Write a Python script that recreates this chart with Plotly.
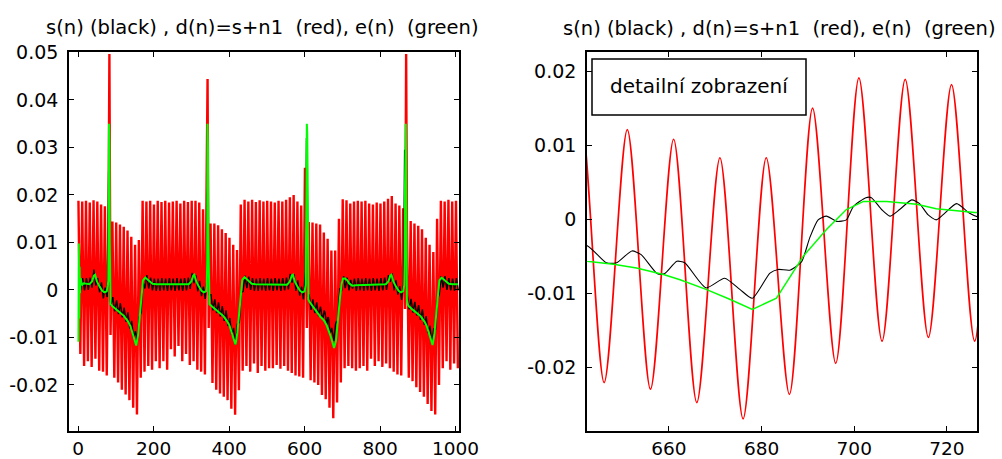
import plotly.graph_objects as go

# ---------------- data ----------------
# d(n) = s + n1 (red): local extrema of the noisy signal (plus R-spike samples)
red_n = [1, 6, 11, 16, 21, 26, 31, 36, 41, 46, 51, 56, 61, 66, 71, 76, 81, 83, 86,
         91, 96, 101, 106, 111, 116, 121, 126, 131, 136, 141, 146, 151, 156, 161, 166,
         171, 176, 181, 186, 191, 196, 201, 206, 211, 216, 221, 226, 231, 236, 241, 246,
         251, 256, 261, 266, 271, 276, 281, 286, 291, 296, 301, 306, 311, 316, 321, 326,
         331, 336, 341, 343, 346, 351, 356, 361, 366, 371, 376, 381, 386, 391, 396, 401,
         406, 411, 416, 421, 426, 431, 436, 441, 446, 451, 456, 461, 466, 471, 476, 481,
         486, 491, 496, 501, 506, 511, 516, 521, 526, 531, 536, 541, 546, 551, 556, 561,
         566, 571, 576, 581, 586, 591, 596, 601, 606, 611, 616, 621, 626, 631, 636, 641,
         646, 651, 656, 661, 666, 671, 676, 681, 686, 691, 696, 701, 706, 711, 716, 721,
         726, 731, 736, 741, 746, 751, 756, 761, 766, 771, 776, 781, 786, 791, 796, 801,
         806, 811, 816, 821, 826, 831, 836, 841, 846, 851, 856, 861, 866, 869, 871, 876,
         881, 886, 891, 896, 901, 906, 911, 916, 921, 926, 931, 936, 941, 946, 951, 956,
         961, 966, 971, 976, 981, 986, 991, 996, 1001, 1006]
red_v = [0.0188, -0.0135, 0.0186, -0.0160, 0.0188, -0.0150, 0.0184, -0.0162, 0.0189, -0.0145,
         0.0186, -0.0170, 0.0180, -0.0172, 0.0176, -0.0180, 0.0185, 0.0497, -0.0095,
         0.0144, -0.0185, 0.0142, -0.0195, 0.0138, -0.0210, 0.0133, -0.0220, 0.0125, -0.0232,
         0.0112, -0.0248, 0.0095, -0.0262, 0.0105, -0.0185,
         0.0188, -0.0172, 0.0186, -0.0160, 0.0188, -0.0168, 0.0180, -0.0150, 0.0188, -0.0165,
         0.0185, -0.0150, 0.0188, -0.0168, 0.0184, -0.0125,
         0.0186, -0.0140, 0.0188, -0.0118, 0.0182, -0.0150, 0.0188, -0.0135, 0.0185, -0.0158,
         0.0188, -0.0150, 0.0188, -0.0168, 0.0184, -0.0172,
         0.0170, -0.0178, 0.0337, 0.0444, -0.0080, 0.0140, -0.0196, 0.0140, -0.0210, 0.0136,
         -0.0218, 0.0128, -0.0225, 0.0120, -0.0232, 0.0110,
         -0.0250, 0.0095, -0.0263, 0.0084, -0.0211, 0.0180, -0.0170, 0.0190, -0.0160, 0.0186,
         -0.0172, 0.0190, -0.0155, 0.0185, -0.0175, 0.0189,
         -0.0160, 0.0186, -0.0170, 0.0188, -0.0165, 0.0186, -0.0165, 0.0184, -0.0158, 0.0188,
         -0.0166, 0.0186, -0.0160, 0.0190, -0.0170, 0.0195,
         -0.0175, 0.0200, -0.0180, 0.0186, -0.0182, 0.0178, -0.0185, 0.0257, -0.0080, 0.0143,
         -0.0190, 0.0142, -0.0195, 0.0140, -0.0200, 0.0138,
         -0.0221, 0.0121, -0.0230, 0.0108, -0.0248, 0.0083, -0.0270, 0.0083, -0.0237, 0.0150,
         -0.0195, 0.0191, -0.0165, 0.0189, -0.0160, 0.0182,
         -0.0165, 0.0186, -0.0170, 0.0188, -0.0165, 0.0186, -0.0160, 0.0188, -0.0170, 0.0182,
         -0.0145, 0.0180, -0.0160, 0.0184, -0.0150, 0.0182,
         -0.0162, 0.0186, -0.0155, 0.0192, -0.0165, 0.0198, -0.0172, 0.0182, -0.0178, 0.0178,
         -0.0180, 0.0172, -0.0040, 0.0497, 0.0150, -0.0185,
         0.0145, -0.0192, 0.0140, -0.0205, 0.0135, -0.0215, 0.0128, -0.0225, 0.0110, -0.0240,
         0.0095, -0.0255, 0.0080, -0.0262, 0.0150, -0.0200,
         0.0188, -0.0165, 0.0186, -0.0150, 0.0190, -0.0168, 0.0186, -0.0155, 0.0188, -0.0165]

# s(n) (black)
black_n = [2, 7, 12, 17, 22, 27, 32, 37, 42, 47, 52, 57, 62, 67, 72, 77,
           79, 80, 81, 82, 83, 84, 85,
           87, 92, 97, 102, 107, 112, 117, 122, 127, 132, 137, 142, 147, 152, 157, 162, 167,
           172, 177, 182, 187, 192, 197, 202, 207, 212, 217, 222, 227, 232, 237, 242, 247,
           252, 257, 262, 267, 272, 277, 282,
           287, 292, 297, 302, 307, 312, 317, 322, 327, 332, 337,
           341, 342, 343, 344, 345, 346, 347,
           352, 357, 362, 367, 372, 377, 382, 387, 392, 397, 402, 407, 412, 417, 422, 427,
           432, 437, 442, 447, 452, 457, 462, 467, 472, 477, 482, 487, 492, 497, 502, 507,
           512, 517, 522, 527, 532, 537, 542,
           547, 552, 557, 562, 567, 572, 577, 582, 587, 592, 597,
           602, 603, 604, 605, 606, 607, 608, 609, 610,
           612, 617, 622, 627, 632, 637, 642, 646.5, 648.7, 652, 654, 657.5, 659, 661.7,
           663.4, 668, 672, 675.3, 678, 681.8, 683.6, 686.1, 688.6, 690.4, 692.2, 694,
           696.2, 698.3, 699.8, 702.5, 703.7, 705.9, 707.7, 709.8, 712.4, 714.1, 715.9,
           717.7, 719.2, 722.1, 724.9, 727,
           732, 737, 742, 747, 752, 757, 762, 767, 772, 777, 782, 787, 792, 797, 802,
           807, 812, 817, 822, 827, 832, 837, 842, 847, 852, 857, 862,
           864, 865, 866, 867, 868, 869, 870, 871,
           872, 877, 882, 887, 892, 897, 902, 907, 912, 917, 922, 927, 932, 937, 942, 947,
           952, 957, 962, 967, 972, 977, 982, 987, 992, 997, 1002, 1007]
black_v = [0.0025, -0.0001, 0.0025, -0.0001, 0.0025, 0.0000, 0.0026, 0.0005, 0.0043, 0.0009,
           0.0025, -0.0005, 0.0016, -0.0018, 0.0005, -0.0015,
           0.0040, 0.0246, 0.0250, 0.0220, 0.0100, 0.0000, -0.0020,
           -0.0033, -0.0015, -0.0045, -0.0022, -0.0051, -0.0028, -0.0058, -0.0037, -0.0067,
           -0.0047, -0.0081, -0.0065, -0.0101, -0.0087, -0.0108, -0.0057, -0.0048,
           0.0018, 0.0003, 0.0031, 0.0003, 0.0026, -0.0001, 0.0024, -0.0002, 0.0024, -0.0002,
           0.0025, -0.0001, 0.0024, -0.0002, 0.0025, -0.0001,
           0.0024, -0.0002, 0.0025, -0.0001, 0.0024, -0.0002, 0.0025,
           -0.0001, 0.0026, 0.0002, 0.0036, 0.0014, 0.0031, -0.0003, 0.0019, -0.0013, 0.0007, -0.0019,
           0.0020, 0.0200, 0.0225, 0.0225, 0.0130, 0.0040, -0.0010,
           -0.0010, -0.0043, -0.0020, -0.0049, -0.0026, -0.0056, -0.0034, -0.0065, -0.0043,
           -0.0076, -0.0059, -0.0095, -0.0080, -0.0116, -0.0072, -0.0069,
           -0.0006, -0.0003, 0.0030, 0.0004, 0.0028, 0.0000, 0.0025, -0.0002, 0.0024, -0.0002,
           0.0025, -0.0001, 0.0024, -0.0002, 0.0025, -0.0001,
           0.0024, -0.0002, 0.0025, -0.0001, 0.0024, -0.0002, 0.0025,
           -0.0001, 0.0026, 0.0001, 0.0034, 0.0015, 0.0033, -0.0002, 0.0020, -0.0012, 0.0007, -0.0020,
           0.0040, 0.0120, 0.0260, 0.0320, 0.0300, 0.0240, 0.0084, 0.0010, -0.0015,
           -0.0009, -0.0042, -0.0020, -0.0049, -0.0026, -0.0055, -0.0035, -0.0059, -0.0059,
           -0.0043, -0.0048, -0.0074, -0.0074, -0.0057,
           -0.0059, -0.0093, -0.0080, -0.0095, -0.0107, -0.0073, -0.0068, -0.0069, -0.0058,
           -0.0025, -0.0001, 0.0004,
           -0.0003, -0.0001, 0.0017, 0.0029, 0.0029, 0.0013, 0.0004, 0.0013, 0.0026, 0.0021,
           0.0006, -0.0001, 0.0006, 0.0021, 0.0008, 0.0003,
           0.0024, -0.0002, 0.0025, -0.0001, 0.0024, -0.0002, 0.0025, -0.0001, 0.0024, -0.0002,
           0.0025, -0.0001, 0.0024, -0.0002, 0.0025,
           -0.0001, 0.0026, 0.0000, 0.0031, 0.0017, 0.0035, -0.0001, 0.0021, -0.0010, 0.0008,
           -0.0021, 0.0011,
           0.0200, 0.0295, 0.0280, 0.0250, 0.0220, 0.0120, 0.0030, -0.0015,
           -0.0010, -0.0041, -0.0019, -0.0048, -0.0025, -0.0054, -0.0032, -0.0063, -0.0041,
           -0.0073, -0.0055, -0.0091, -0.0075, -0.0113, -0.0082, -0.0083,
           -0.0022, -0.0008, 0.0029, 0.0005, 0.0029, 0.0000, 0.0025, -0.0001, 0.0024, -0.0002,
           0.0025, -0.0001]

# e(n) (green)
green_n = [1, 2, 3, 4, 5, 7, 10, 15, 25,
           30, 37, 42, 45, 50, 57, 64, 70, 76, 79,
           80, 81, 82, 83, 84, 85, 86,
           92, 102, 112, 122, 132, 138, 144, 149, 154, 159, 164, 168, 172, 178, 187, 197, 207,
           250, 275,
           293, 300, 305, 308, 313, 320, 327, 333, 339, 341,
           342, 343, 344, 345, 346, 348,
           355, 365, 375, 385, 395, 401, 407, 412, 417, 422, 427, 431, 435, 441, 450, 460, 470,
           500, 530,
           554, 561, 566, 569, 574, 581, 588, 594, 600, 603,
           604, 605, 606, 607, 608, 609, 610,
           613, 626, 642.3, 648, 653, 658.8, 662.4, 668, 673, 678, 683.2, 689, 694, 698.3,
           702, 707, 713.5, 717.7, 726, 736,
           760, 790,
           815, 822, 827, 830, 835, 842, 849, 855, 861, 864,
           865, 866, 867, 868, 869, 870, 871,
           874, 877, 887, 897, 907, 917, 923, 929, 934, 939, 944, 949, 953, 957, 963, 972,
           982, 992, 1006]
green_v = [-0.0109, 0.0098, -0.0060, 0.0049, -0.0007, 0.0025, 0.0010, 0.0014, 0.0012,
           0.0012, 0.0018, 0.0030, 0.0032, 0.0018, 0.0007, -0.0002, -0.0005, -0.0003, 0.0010,
           0.0020, 0.0120, 0.0350, 0.0305, 0.0100, 0.0000, -0.0030,
           -0.0035, -0.0042, -0.0048, -0.0055, -0.0066, -0.0075, -0.0090, -0.0105, -0.0117,
           -0.0095, -0.0045, -0.0005, 0.0020, 0.0026, 0.0020, 0.0013, 0.0012,
           0.0012, 0.0013,
           0.0012, 0.0018, 0.0030, 0.0032, 0.0018, 0.0007, -0.0002, -0.0005, -0.0003, 0.0010,
           0.0060, 0.0350, 0.0300, 0.0120, 0.0000, -0.0030,
           -0.0035, -0.0042, -0.0048, -0.0055, -0.0066, -0.0075, -0.0090, -0.0105, -0.0115,
           -0.0090, -0.0040, -0.0002, 0.0021, 0.0027, 0.0020, 0.0013, 0.0012,
           0.0012, 0.0011,
           0.0011, 0.0018, 0.0030, 0.0032, 0.0018, 0.0007, -0.0002, -0.0005, -0.0003, 0.0010,
           0.0080, 0.0200, 0.0350, 0.0330, 0.0250, 0.0060, -0.0020,
           -0.0025, -0.0040, -0.0057, -0.0061, -0.0066, -0.0075, -0.0082, -0.0095, -0.0108,
           -0.0122, -0.0107, -0.0050, -0.0014, 0.0013,
           0.0024, 0.0024, 0.0020, 0.0014, 0.0009, 0.0010,
           0.0011, 0.0012,
           0.0012, 0.0018, 0.0030, 0.0032, 0.0018, 0.0007, -0.0002, -0.0005, -0.0003, 0.0010,
           0.0060, 0.0220, 0.0350, 0.0350, 0.0250, 0.0080, -0.0020,
           -0.0032, -0.0035, -0.0042, -0.0048, -0.0055, -0.0066, -0.0075, -0.0090, -0.0105,
           -0.0116, -0.0092, -0.0042, -0.0003, 0.0020, 0.0026, 0.0020,
           0.0013, 0.0012, 0.0012]

title_text = "s(n) (black) , d(n)=s+n1  (red), e(n)  (green)"
box_text = "detailní zobrazení"

left_xticks = [0, 200, 400, 600, 800, 1000]
left_yticks = [-0.02, -0.01, 0, 0.01, 0.02, 0.03, 0.04, 0.05]
left_yticklabels = ["-0.02", "-0.01", "0", "0.01", "0.02", "0.03", "0.04", "0.05"]
right_xticks = [660, 680, 700, 720]
right_yticks = [-0.02, -0.01, 0, 0.01, 0.02]
right_yticklabels = ["-0.02", "-0.01", "0", "0.01", "0.02"]

# ---------------- figure ----------------
W, H = 1002, 459
FONT = "DejaVu Sans"

def px_x(x):
    return x / W

def px_y(y):
    return 1 - y / H

fig = go.Figure()

# left panel
fig.add_trace(go.Scatter(x=red_n, y=red_v, mode="lines", line=dict(color="#ff0000", width=2.4),
                         xaxis="x", yaxis="y", showlegend=False, hoverinfo="skip"))
fig.add_trace(go.Scatter(x=black_n, y=black_v, mode="lines", line=dict(color="#000000", width=1.4),
                         xaxis="x", yaxis="y", showlegend=False, hoverinfo="skip"))
fig.add_trace(go.Scatter(x=green_n, y=green_v, mode="lines", line=dict(color="#00ff00", width=2),
                         xaxis="x", yaxis="y", showlegend=False, hoverinfo="skip"))

# right panel (detail)
fig.add_trace(go.Scatter(x=red_n, y=red_v, mode="lines",
                         line=dict(color="#ff0000", width=1.7, shape="spline", smoothing=0.85),
                         xaxis="x2", yaxis="y2", showlegend=False, hoverinfo="skip"))
fig.add_trace(go.Scatter(x=black_n, y=black_v, mode="lines",
                         line=dict(color="#000000", width=1.1, shape="spline", smoothing=0.6),
                         xaxis="x2", yaxis="y2", showlegend=False, hoverinfo="skip"))
fig.add_trace(go.Scatter(x=green_n, y=green_v, mode="lines", line=dict(color="#00ff00", width=1.5),
                         xaxis="x2", yaxis="y2", showlegend=False, hoverinfo="skip"))

axis_common = dict(showgrid=False, zeroline=False, showline=True, linecolor="black",
                   linewidth=1.6, mirror="ticks", ticks="inside", ticklen=5, tickwidth=1.3,
                   tickcolor="black", automargin=False)
yfont = dict(family=FONT, size=19, color="black")
xfont = dict(family=FONT, size=18.5, color="black")

fig.update_layout(
    width=W, height=H,
    margin=dict(l=0, r=0, t=0, b=0),
    paper_bgcolor="white", plot_bgcolor="white",
    xaxis=dict(domain=[px_x(69), px_x(459)], range=[-24, 1009], anchor="y",
               tickvals=left_xticks, ticklabelstandoff=0, tickfont=xfont, **axis_common),
    yaxis=dict(domain=[px_y(431), px_y(52)], range=[-0.0297, 0.0501], anchor="x",
               tickvals=left_yticks, ticktext=left_yticklabels, ticklabelstandoff=5,
               tickfont=yfont, **axis_common),
    xaxis2=dict(domain=[px_x(587), px_x(977)], range=[642.3, 726.5], anchor="y2",
                tickvals=right_xticks, ticklabelstandoff=0, tickfont=xfont, **axis_common),
    yaxis2=dict(domain=[px_y(431), px_y(52)], range=[-0.02865, 0.0226], anchor="x2",
                tickvals=right_yticks, ticktext=right_yticklabels, ticklabelstandoff=5,
                tickfont=yfont, **axis_common),
    shapes=[dict(type="rect", xref="paper", yref="paper",
                 x0=px_x(592), x1=px_x(806), y0=px_y(115), y1=px_y(59),
                 line=dict(color="black", width=1.5), fillcolor="white", layer="above")],
    annotations=[
        dict(text=title_text, xref="paper", yref="paper", x=px_x(262), y=px_y(27),
             xanchor="center", yanchor="middle", showarrow=False,
             font=dict(family=FONT, size=19.5, color="black")),
        dict(text=title_text, xref="paper", yref="paper", x=px_x(779), y=px_y(29),
             xanchor="center", yanchor="middle", showarrow=False,
             font=dict(family=FONT, size=19.5, color="black")),
        dict(text=box_text, xref="paper", yref="paper", x=px_x(699), y=px_y(86),
             xanchor="center", yanchor="middle", showarrow=False,
             font=dict(family=FONT, size=20, color="black")),
    ],
)

fig.write_html("out.html", config={"displayModeBar": False},
               post_script="document.body.style.margin='0px';document.body.style.overflow='hidden';")
